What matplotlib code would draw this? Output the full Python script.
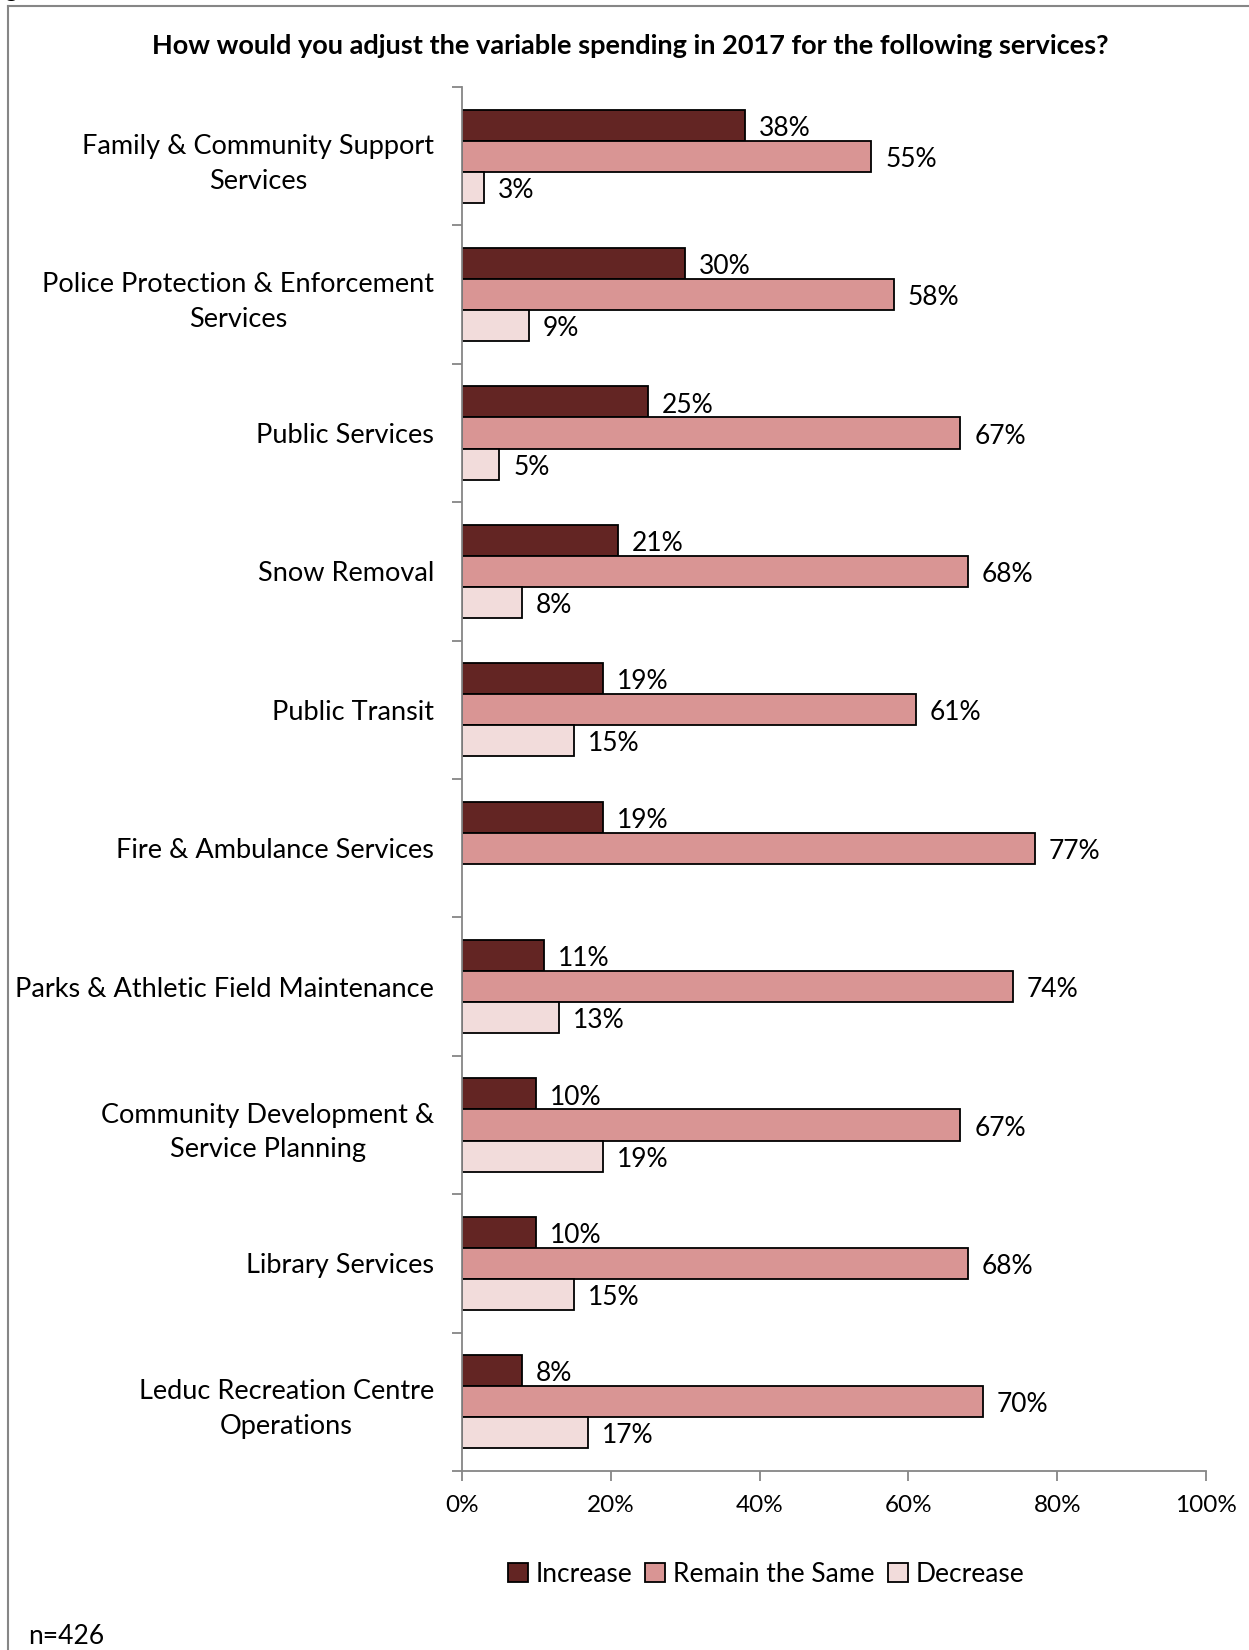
import numpy as np
import matplotlib
matplotlib.use("Agg")
import matplotlib.pyplot as plt
from matplotlib.lines import Line2D
from matplotlib.patches import Patch

plt.rcParams['font.family'] = ['Lato', 'DejaVu Sans']

services = ['Family & Community Support\nServices',
            'Police Protection & Enforcement\nServices',
            'Public Services',
            'Snow Removal',
            'Public Transit',
            'Fire & Ambulance Services',
            'Parks & Athletic Field Maintenance',
            'Community Development &\nService Planning',
            'Library Services',
            'Leduc Recreation Centre\nOperations']
increase = [38, 30, 25, 21, 19, 19, 11, 10, 10, 8]
remain = [55, 58, 67, 68, 61, 77, 74, 67, 68, 70]
decrease = [3, 9, 5, 8, 15, None, 13, 19, 15, 17]  # no decrease value for fire & ambulance

series = ['Increase', 'Remain the Same', 'Decrease']
colors = ['#632523', '#D99594', '#F2DCDB']

W, H = 1249, 1650
fig = plt.figure(figsize=(W / 100, H / 100), dpi=100)
ax = fig.add_axes([462 / W, 1 - 1471 / H, (1206 - 462) / W, (1471 - 87) / H])

y = np.arange(len(services))
bh = 0.224
for k, (vals, col) in enumerate(zip([increase, remain, decrease], colors)):
    pos = y + (k - 1) * bh
    for yy, v in zip(pos, vals):
        if v is None:
            continue
        ax.barh(yy, v, height=bh, color=col, edgecolor='black', linewidth=1.3)
        ax.annotate('%d%%' % v, (v, yy), xytext=(10, -2.2), textcoords='offset points',
                    ha='left', va='center', fontsize=19)

ax.set_xlim(0, 100)
ax.set_ylim(len(services) - 0.5, -0.5)
ax.set_xticks(np.arange(0, 101, 20))
ax.set_xticklabels(['%d%%' % t for t in range(0, 101, 20)], fontsize=17.5)
ax.set_yticks(np.arange(len(services) + 1) - 0.5)
ax.set_yticklabels([])
ax.set_yticks(y, minor=True)
ax.set_yticklabels(services, minor=True, fontsize=19.5, multialignment='center',
                   linespacing=1.5)
ax.tick_params(axis='y', which='minor', length=0, pad=20)
ax.tick_params(axis='y', which='major', length=7, color='#868686', width=1.3)
ax.tick_params(axis='x', length=7, color='#868686', width=1.3, pad=10)
for s in ['top', 'right']:
    ax.spines[s].set_visible(False)
for s in ['left', 'bottom']:
    ax.spines[s].set_color('#868686')
    ax.spines[s].set_linewidth(1.3)

fig.text(630 / W, 1 - 46 / H, 'How would you adjust the variable spending in 2017 for the following services?',
         ha='center', va='center', fontsize=19.5, fontweight='bold')

handles = [Patch(facecolor=c, edgecolor='black', linewidth=1.3) for c in colors]
fig.legend(handles, series, loc='center', bbox_to_anchor=(766 / W, 1 - 1574 / H), ncol=3,
           frameon=False, fontsize=19, handlelength=0.75, handleheight=0.75,
           handletextpad=0.3, columnspacing=0.5)

fig.text(28 / W, 1 - 1637 / H, 'n=426', ha='left', va='center', fontsize=19)
fig.text(-14 / W, 1 + 3 / H, 'Figure', ha='left', va='baseline', fontsize=17, fontweight='bold')

# frame around the figure area
fig.add_artist(Line2D([8 / W, 8 / W], [1 - 6 / H, -0.01], transform=fig.transFigure,
                      color='#868686', linewidth=1.5))
fig.add_artist(Line2D([8 / W, 1.01], [1 - 6 / H, 1 - 6 / H], transform=fig.transFigure,
                      color='#868686', linewidth=1.5))

fig.savefig('out.png', dpi=100, facecolor='white')
